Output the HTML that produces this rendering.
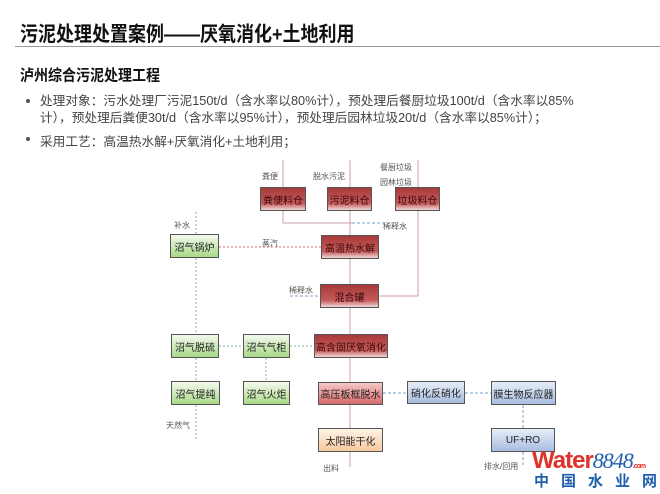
<!DOCTYPE html>
<html><head><meta charset="utf-8"><style>
body{margin:0;width:660px;height:494px;background:#fff;position:relative;overflow:hidden;font-family:"Liberation Sans","Noto Sans CJK SC",sans-serif;}
.a{position:absolute;white-space:nowrap;}
.b{position:absolute;box-sizing:border-box;border:1.5px solid #555;display:flex;align-items:center;justify-content:center;font-size:10px;color:#222;}
.r{background:linear-gradient(#a83a3a,#c65a5a 70%,#f0d8d8);color:#3a0a0a;}
.r2{background:linear-gradient(#f4c8c8,#d86a6a);}
.g{background:linear-gradient(#f4faee,#a8d888);}
.bl{background:linear-gradient(#e6edf8,#a9bde0);}
.o{background:linear-gradient(#fff3e6,#f7c9a0);}
.l{font-size:8px;color:#555;}
</style></head><body>
<div class="a" style="left:20px;top:18px;font-size:18px;font-weight:bold;color:#111;transform:scaleY(1.15);transform-origin:left top;">污泥处理处置案例——厌氧消化+土地利用</div>
<div class="a" style="left:15px;top:46px;width:645px;height:1px;background:#999;"></div>
<div class="a" style="left:20px;top:64px;font-size:14px;font-weight:bold;color:#111;transform:scaleY(1.1);transform-origin:left top;">泸州综合污泥处理工程</div>
<div class="a" style="left:26px;top:99px;width:4px;height:4px;border-radius:50%;background:#555;"></div>
<div class="a" style="left:40px;top:93px;font-size:12.7px;color:#444;line-height:17px;">处理对象：污水处理厂污泥150t/d（含水率以80%计），预处理后餐厨垃圾100t/d（含水率以85%<br>计），预处理后粪便30t/d（含水率以95%计），预处理后园林垃圾20t/d（含水率以85%计）；</div>
<div class="a" style="left:26px;top:137px;width:4px;height:4px;border-radius:50%;background:#555;"></div>
<div class="a" style="left:40px;top:131px;font-size:12.7px;color:#444;">采用工艺：高温热水解+厌氧消化+土地利用；</div>

<svg class="a" style="left:0;top:0" width="660" height="494">
<g stroke="#c9a0a0" stroke-width="1" fill="none">
<path d="M283 160V187M350 160V187M418 160V296H379M283 211V223H352M350 211V235M350 259V284M350 308V334M350 358V382M350 405V428M350 452V467"/>
</g>
<g stroke="#7aa0c8" stroke-width="1" fill="none" stroke-dasharray="3,2">
<path d="M385 223H352M290 296H320M383 393H407M465 393H491M523 405V428M523 452V467"/>
</g>
<path d="M219 247H321" stroke="#d07070" stroke-dasharray="2,2" fill="none"/>
<g stroke="#7ab89a" stroke-dasharray="2,2" fill="none">
<path d="M196 212V234M196 258V334M196 358V381M196 405V440M219 346H243M290 346H314M266 358V381"/>
</g>
</svg>

<div class="a l" style="left:262px;top:171px;">粪便</div>
<div class="a l" style="left:313px;top:171px;">脱水污泥</div>
<div class="a l" style="left:380px;top:162px;">餐厨垃圾</div>
<div class="a l" style="left:380px;top:177px;">园林垃圾</div>
<div class="a l" style="left:383px;top:221px;">稀释水</div>
<div class="a l" style="left:174px;top:220px;">补水</div>
<div class="a l" style="left:262px;top:238px;">蒸汽</div>
<div class="a l" style="left:289px;top:285px;">稀释水</div>
<div class="a l" style="left:166px;top:420px;">天然气</div>
<div class="a l" style="left:323px;top:463px;">出料</div>
<div class="a l" style="left:484px;top:461px;">排水/回用</div>

<div class="b r" style="left:260px;top:187px;width:46px;height:24px;">粪便料仓</div>
<div class="b r" style="left:327px;top:187px;width:45px;height:24px;">污泥料仓</div>
<div class="b r" style="left:395px;top:187px;width:45px;height:24px;">垃圾料仓</div>
<div class="b g" style="left:170px;top:234px;width:49px;height:24px;">沼气锅炉</div>
<div class="b r" style="left:321px;top:235px;width:58px;height:24px;">高温热水解</div>
<div class="b r" style="left:320px;top:284px;width:59px;height:24px;">混合罐</div>
<div class="b g" style="left:171px;top:334px;width:48px;height:24px;">沼气脱硫</div>
<div class="b g" style="left:243px;top:334px;width:47px;height:24px;">沼气气柜</div>
<div class="b r" style="left:314px;top:334px;width:74px;height:24px;">高含固厌氧消化</div>
<div class="b g" style="left:171px;top:381px;width:49px;height:24px;">沼气提纯</div>
<div class="b g" style="left:243px;top:381px;width:47px;height:24px;">沼气火炬</div>
<div class="b r2" style="left:318px;top:382px;width:65px;height:23px;">高压板框脱水</div>
<div class="b bl" style="left:407px;top:381px;width:58px;height:23px;">硝化反硝化</div>
<div class="b bl" style="left:491px;top:381px;width:65px;height:24px;">膜生物反应器</div>
<div class="b o" style="left:318px;top:428px;width:65px;height:24px;">太阳能干化</div>
<div class="b bl" style="left:491px;top:428px;width:64px;height:24px;">UF+RO</div>

<div class="a" style="left:532px;top:447px;font-size:24px;font-weight:bold;color:#e0322a;letter-spacing:-1px;">Water<span style="color:#1f5fae;font-style:italic;font-weight:normal;font-family:'Liberation Serif',serif;font-size:22px;">8848</span><span style="font-size:7px;color:#e0322a;">.com</span></div>
<div class="a" style="left:534px;top:470px;font-size:15px;font-weight:bold;color:#1f5fae;letter-spacing:12px;">中国水业网</div>
</body></html>
